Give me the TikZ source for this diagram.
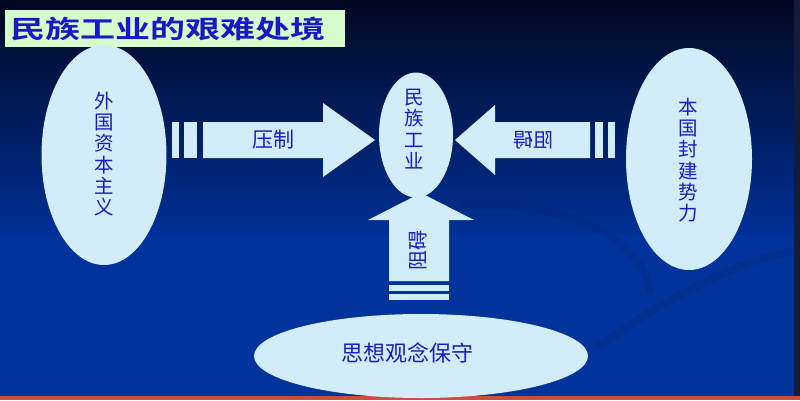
\documentclass[tikz,border=0pt]{standalone}
\usepackage{fontspec}
\newfontfamily\cjk[BoldFont={Noto Sans CJK SC Bold}]{Noto Sans CJK SC}
\usetikzlibrary{shapes.geometric}
\definecolor{bgtop}{RGB}{2,8,34}
\definecolor{bgmid}{RGB}{0,48,150}
\definecolor{bgbot}{RGB}{0,52,156}
\definecolor{ellfill}{RGB}{210,236,250}
\definecolor{txtblue}{RGB}{28,28,190}
\definecolor{titlegreen}{RGB}{214,252,204}
\definecolor{titleblue}{RGB}{24,24,196}
\definecolor{swirlc}{RGB}{0,36,120}
\definecolor{redstrip}{RGB}{200,80,60}
\definecolor{edgedark}{RGB}{20,28,60}
\begin{document}
\begin{tikzpicture}[x=1pt,y=-1pt,
  ell/.style={ellipse, fill=ellfill, draw=none, inner sep=0pt},
  blk/.style={fill=ellfill},
  lbl/.style={text=txtblue, font=\cjk\fontsize{19.5pt}{21.3pt}\selectfont, align=center, inner sep=0pt},
  swirl/.style={draw=swirlc, line width=8pt, opacity=0.25, line cap=round}]
\useasboundingbox (0,0) rectangle (800,400);
% background
\shade[top color=bgtop, bottom color=bgmid] (0,0) rectangle (800,235);
\fill[bgbot] (0,235) rectangle (800,400);
\fill[bgtop] (0,0) rectangle (800,6);
% faint swirls
\draw[swirl] (462,205) .. controls (560,200) and (640,235) .. (650,290);
\draw[swirl] (600,345) .. controls (680,290) and (740,260) .. (800,250);
% edges
\fill[edgedark] (794,0) rectangle (800,400);
\fill[redstrip] (0,396) rectangle (800,400);
% title
\node[fill=titlegreen, minimum width=340pt, minimum height=37pt, anchor=north west, inner sep=0pt] (titlebox) at (5,10) {};
\node[anchor=west, text=titleblue, font=\cjk\bfseries\fontsize{25pt}{28pt}\selectfont, inner sep=0pt] (title) at (10,29) {\scalebox{1.4}[1]{民族工业的艰难处境}};
% ellipses
\node[ell, minimum width=125pt, minimum height=220pt] (foreign) at (104,155) {};
\node[lbl] (foreignt) at (104,154) {外\\国\\资\\本\\主\\义};
\node[ell, minimum width=126pt, minimum height=222pt] (feudal) at (689,159) {};
\node[lbl] (feudalt) at (688,160) {本\\国\\封\\建\\势\\力};
\node[ell, minimum width=74pt, minimum height=125pt] (nat) at (416,135) {};
\node[lbl] (natt) at (414,129) {民\\族\\工\\业};
\node[ell, minimum width=334pt, minimum height=84pt] (thought) at (421,356) {};
\node[lbl, font=\cjk\fontsize{22pt}{24pt}\selectfont] (thoughtt) at (407,353) {思想观念保守};
% left arrow
\fill[blk] (172,122) rectangle (179,158);
\fill[blk] (184,122) rectangle (197,158);
\fill[blk] (203,122) -- (323,122) -- (323,103) -- (375,140) -- (323,177) -- (323,158) -- (203,158) -- cycle;
\node[lbl, font=\cjk\fontsize{21pt}{23pt}\selectfont] (press) at (273,140) {压制};
% right arrow
\fill[blk] (608,122) rectangle (615,158);
\fill[blk] (595,122) rectangle (603,158);
\fill[blk] (590,122) -- (495,122) -- (495,105) -- (455,140) -- (495,175) -- (495,158) -- (590,158) -- cycle;
\node[lbl, font=\cjk\fontsize{20pt}{22pt}\selectfont] (block1) at (533,140) {\reflectbox{阻碍}};
% bottom arrow
\fill[blk] (389,285) rectangle (449,291);
\fill[blk] (389,294) rectangle (449,300);
\fill[blk] (389,281) -- (389,220) -- (368,220) -- (421,193) -- (474,220) -- (449,220) -- (449,281) -- cycle;
\node[lbl, font=\cjk\fontsize{20pt}{22pt}\selectfont, rotate=90] (block2) at (418,250) {阻碍};
\end{tikzpicture}
\end{document}
